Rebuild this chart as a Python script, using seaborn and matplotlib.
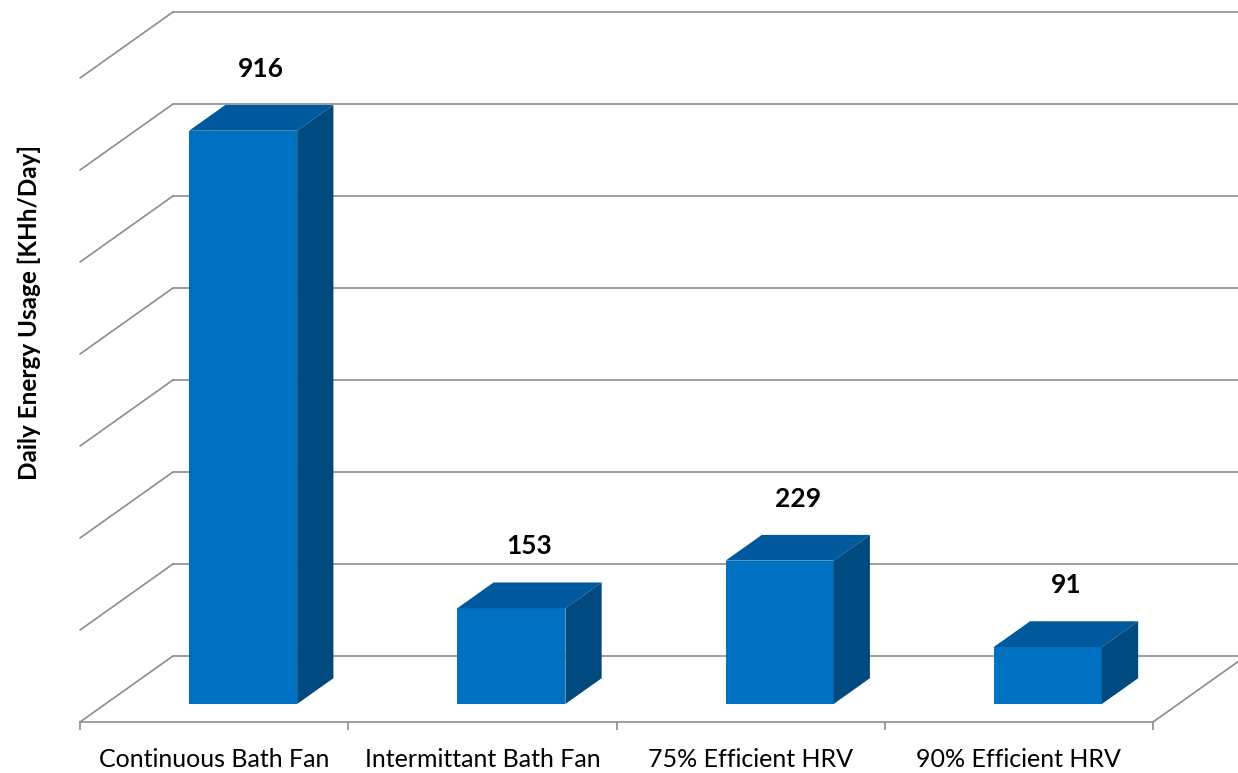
import matplotlib
matplotlib.use("Agg")
import matplotlib.pyplot as plt
import seaborn as sns
import pandas as pd
from matplotlib.patches import Polygon

# Daily energy use of four ventilation options
categories = ["Continuous Bath Fan", "Intermittant Bath Fan",
              "75% Efficient HRV", "90% Efficient HRV"]
usage = [916, 153, 229, 91]

# value-axis gridline spacing (labels are hidden) and number of gridlines
GRID_STEP = 147
N_GRID = 8

# oblique 3-D box: depth of the floor in category units / data units
DEPTH_X = 0.3467
DEPTH_Y = 105.5
BAR_WIDTH = 0.403
BAR_SHIFT_X = 0.108  # sideways offset of the bar fronts from the category centre
BAR_FRONT = 0.273    # where the bar front sits inside the floor depth
BAR_DEPTH = 0.39     # bar depth as a share of the floor depth

FRONT = "#0070C0"
TOP = "#00599C"
SIDE = "#004A80"
GRID = "#8C8C8C"

sns.set_theme(style="white")
plt.rcParams["font.family"] = ["Lato", "DejaVu Sans"]

W, H = 1238, 773
fig = plt.figure(figsize=(W / 100, H / 100), dpi=100)
ax = fig.add_axes([80 / W, 51 / H, 1073 / W, 710 / H])

df = pd.DataFrame({"Device": categories, "Usage": usage})
sns.barplot(data=df, x="Device", y="Usage", width=BAR_WIDTH, color=FRONT,
            saturation=1, linewidth=0, ax=ax, zorder=3)

ax.set_xlim(-0.5, len(categories) - 0.5)
ax.set_ylim(0, (N_GRID - 1) * GRID_STEP + DEPTH_Y)

# side wall diagonals and back wall gridlines
x_left = -0.5
x_right = len(categories) - 0.5
for k in range(N_GRID):
    v = k * GRID_STEP
    ax.plot([x_left, x_left + DEPTH_X], [v, v + DEPTH_Y], color=GRID,
            lw=1.2, clip_on=False, zorder=1)
    ax.plot([x_left + DEPTH_X, x_right + DEPTH_X], [v + DEPTH_Y] * 2,
            color=GRID, lw=1.2, clip_on=False, zorder=1)
# right edge of the floor
ax.plot([x_right, x_right + DEPTH_X], [0, DEPTH_Y], color=GRID, lw=1.2,
        clip_on=False, zorder=1)

# extrude each bar into a box
bdx = BAR_DEPTH * DEPTH_X
bdy = BAR_DEPTH * DEPTH_Y
for p, val in zip(ax.patches, usage):
    x0 = p.get_x() + BAR_SHIFT_X
    y0 = BAR_FRONT * DEPTH_Y
    p.set_x(x0)
    p.set_y(y0)
    w = p.get_width()
    h = p.get_height()
    top = [(x0, y0 + h), (x0 + w, y0 + h), (x0 + w + bdx, y0 + h + bdy),
           (x0 + bdx, y0 + h + bdy)]
    side = [(x0 + w, y0), (x0 + w + bdx, y0 + bdy),
            (x0 + w + bdx, y0 + h + bdy), (x0 + w, y0 + h)]
    ax.add_patch(Polygon(top, closed=True, facecolor=TOP, edgecolor="none",
                         zorder=3))
    ax.add_patch(Polygon(side, closed=True, facecolor=SIDE, edgecolor="none",
                         zorder=3))
    ax.annotate(f"{val}", (x0 + w / 2 + bdx / 2, y0 + h + bdy),
                xytext=(0, 26), textcoords="offset points", ha="center",
                va="center", fontsize=19, fontweight="bold", color="black",
                annotation_clip=False, zorder=4)

ax.set_xlabel("")
ax.set_ylabel("Daily Energy Usage [KHh/Day]", fontsize=17.5,
              fontweight="bold", color="black")
ax.yaxis.set_label_coords(-0.036, 0.577)
ax.set_yticks([])
ax.set_xticks(range(len(categories)))
ax.set_xticklabels(categories, fontsize=18, color="black")
ax.set_xticks([i - 0.5 for i in range(len(categories) + 1)], minor=True)
ax.tick_params(axis="x", which="major", length=0, pad=19)
ax.tick_params(axis="x", which="minor", length=6, width=1.2, color=GRID,
               direction="out", bottom=True)

for side_name in ["top", "left", "right"]:
    ax.spines[side_name].set_visible(False)
ax.spines["bottom"].set_color(GRID)
ax.spines["bottom"].set_linewidth(1.2)
ax.set_facecolor("none")
ax.patch.set_alpha(0)

fig.savefig("out.png", dpi=100, facecolor="white")
